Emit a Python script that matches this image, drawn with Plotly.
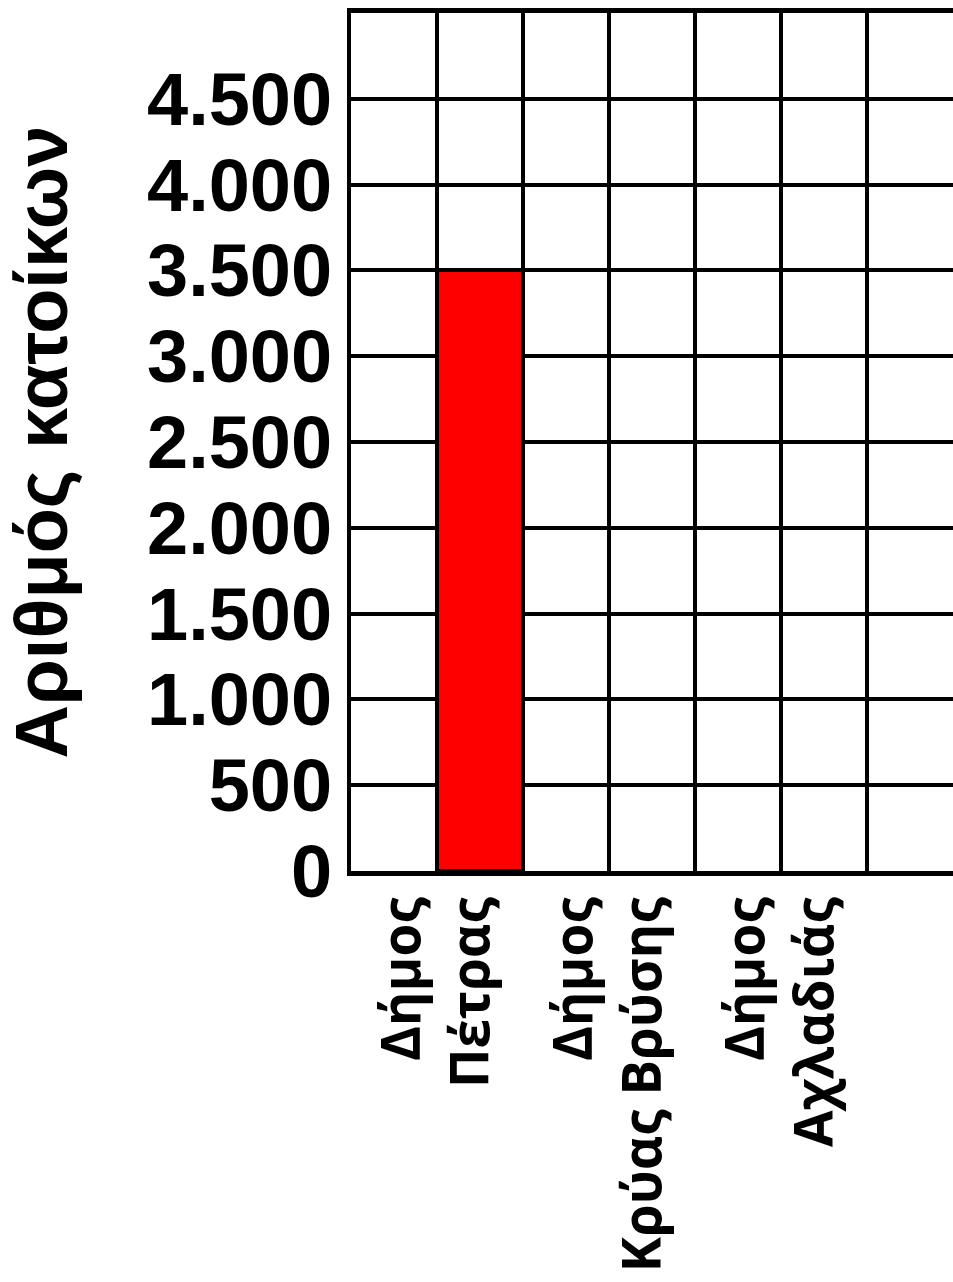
import plotly.graph_objects as go

# data
municipalities = ["Δήμος<br>Πέτρας", "Δήμος<br>Κρύας Βρύσης", "Δήμος<br>Αχλαδιάς"]
residents = [3500, None, None]
y_tickvals = [0, 500, 1000, 1500, 2000, 2500, 3000, 3500, 4000, 4500]
y_ticktext = ["0", "500", "1.000", "1.500", "2.000", "2.500", "3.000", "3.500", "4.000", "4.500"]
y_title = "Αριθμός κατοίκων"

# each municipality takes two grid columns, label sits on the column boundary
positions = [2 * i + 1 for i in range(len(municipalities))]

fig = go.Figure()
fig.add_trace(
    go.Bar(
        x=positions,
        y=residents,
        width=1,
        offset=0,
        marker=dict(color="#FF0000", line=dict(color="black", width=4)),
        showlegend=False,
    )
)

fig.update_layout(
    width=953,
    height=1282,
    margin=dict(l=351, r=0, t=13, b=411),
    paper_bgcolor="white",
    plot_bgcolor="white",
    bargap=0,
    xaxis=dict(
        range=[0, 7],
        tickvals=positions,
        ticktext=municipalities,
        tickangle=-90,
        tickfont=dict(family="Open Sans", size=53, color="black", weight="bold"),
        ticks="",
        ticklabelstandoff=0,
        showgrid=True,
        gridcolor="black",
        gridwidth=4,
        minor=dict(dtick=1, tick0=0, showgrid=True, gridcolor="black", gridwidth=4),
        showline=True,
        linecolor="black",
        linewidth=5,
        mirror=True,
        zeroline=False,
        fixedrange=True,
    ),
    yaxis=dict(
        range=[0, 5000],
        tickvals=y_tickvals,
        ticktext=y_ticktext,
        tickfont=dict(family="Liberation Sans, Arial", size=74, color="black", weight="bold"),
        ticks="",
        ticklabelstandoff=0,
        showgrid=True,
        gridcolor="black",
        gridwidth=4,
        showline=True,
        linecolor="black",
        linewidth=4,
        zeroline=False,
        title=dict(
            text=y_title,
            font=dict(family="Liberation Sans, Arial", size=74, color="black", weight="bold"),
            standoff=70,
        ),
        fixedrange=True,
    ),
)

fig.write_html(
    "out.html",
    config={"displayModeBar": False},
    post_script="document.body.style.margin='0';document.body.style.overflow='hidden';",
)
